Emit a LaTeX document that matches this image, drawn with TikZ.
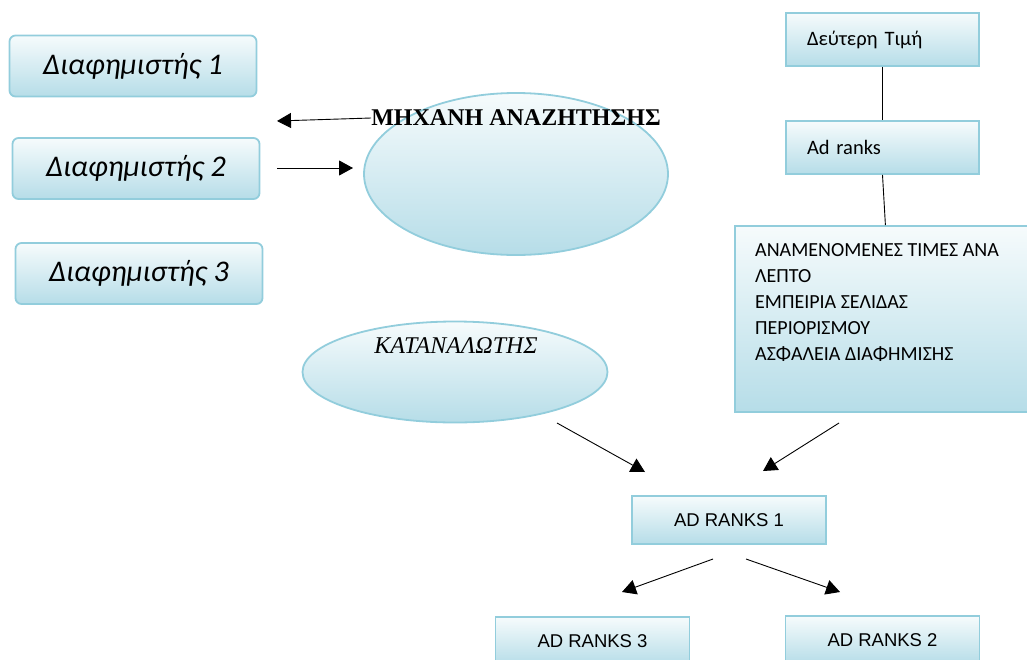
\documentclass[tikz,border=0pt]{standalone}
\usepackage{fontspec}
\setmainfont{Carlito}
\newfontfamily\serifgr{Liberation Serif}
\newfontfamily\arialgr{Liberation Sans}
\usetikzlibrary{shapes.geometric, arrows.meta, positioning}

\definecolor{boxblue}{HTML}{B6DDE8}
\definecolor{boxtop}{HTML}{F6FBFC}
\definecolor{boxedge}{HTML}{92CDDC}

\begin{document}
\begin{tikzpicture}[
  x=1pt, y=-1pt,
  advbox/.style={rectangle, rounded corners=6pt, draw=boxedge, line width=1.8pt,
                 top color=boxtop, bottom color=boxblue, minimum width=247pt,
                 minimum height=61pt, inner sep=0pt, font=\itshape\fontsize{30}{34}\selectfont},
  blob/.style={ellipse, draw=boxedge, line width=1.8pt, top color=boxtop,
               bottom color=boxblue, inner sep=0pt},
  infobox/.style={rectangle, draw=boxedge, line width=1.8pt, top color=boxtop,
                  bottom color=boxblue, inner sep=0pt},
  rankbox/.style={infobox, minimum width=194pt, minimum height=48pt,
                  font=\arialgr\fontsize{18.5}{21}\selectfont},
  pricebox/.style={infobox, text width=151pt, inner xsep=21pt, align=left,
                   minimum height=53pt, font=\fontsize{20.5}{24}\selectfont},
  arrow/.style={-{Triangle[length=14pt, width=15pt]}, line width=0.9pt},
  link/.style={line width=0.9pt}
]
\path[use as bounding box, clip] (0,0) rectangle (1027,659);

% advertisers
\node[advbox] (adv1) at (133,66) {Διαφημιστής 1};
\node[advbox] (adv2) at (136,168.5) {Διαφημιστής 2};
\node[advbox] (adv3) at (139,273.5) {Διαφημιστής 3};

% search engine
\node[blob, minimum width=304pt, minimum height=162pt] (engine) at (516,174) {};
\node[inner sep=0pt, font=\serifgr\bfseries\fontsize{24}{28}\selectfont] (enginetxt) at (516,118) {ΜΗΧΑΝΗ ΑΝΑΖΗΤΗΣΗΣ};

% consumer
\node[blob, minimum width=305pt, minimum height=101pt] (consumer) at (455,372) {};
\node[inner sep=0pt, font=\serifgr\itshape\fontsize{24}{28}\selectfont] (consumertxt) at (456,346) {ΚΑΤΑΝΑΛΩΤΗΣ};

% auction side
\node[pricebox] (second) at (882.5,39.5) {Δεύτερη Τιμή};
\node[pricebox] (adranks) at (882.5,147.5) {Ad ranks};
\node[infobox, minimum width=301pt, minimum height=186pt, anchor=north west] (factors) at (734,225) {};
\node[anchor=north west, inner sep=0pt, align=left,
      font=\fontsize{20}{26}\selectfont] (factorstxt) at (755,243)
  {ΑΝΑΜΕΝΟΜΕΝΕΣ ΤΙΜΕΣ ΑΝΑ\\ΛΕΠΤΟ\\ΕΜΠΕΙΡΙΑ ΣΕΛΙΔΑΣ\\ΠΕΡΙΟΡΙΣΜΟΥ\\ΑΣΦΑΛΕΙΑ ΔΙΑΦΗΜΙΣΗΣ};

% ranks
\node[rankbox] (rank1) at (729,520) {AD RANKS 1};
\node[rankbox] (rank3) at (592.5,641) {AD RANKS 3};
\node[rankbox] (rank2) at (882.5,640) {AD RANKS 2};

% free arrow ends
\coordinate (backtip) at (277,121);
\coordinate (fwdstart) at (277,168);
\coordinate (fwdtip) at (353,168);
\coordinate (constart) at (557,423);
\coordinate (contip) at (645,472);
\coordinate (facstart) at (839,423);
\coordinate (factip) at (763,471);
\coordinate (splitl) at (713,559);
\coordinate (tipl) at (622,592);
\coordinate (splitr) at (746,559);
\coordinate (tipr) at (840,592);

% connectors
\draw[link] (second.south) -- (adranks.north);
\draw[link] (adranks.south) -- (factors.north);
\draw[arrow] (enginetxt.west) -- (backtip);
\draw[arrow] (fwdstart) -- (fwdtip);
\draw[arrow] (constart) -- (contip);
\draw[arrow] (facstart) -- (factip);
\draw[arrow] (splitl) -- (tipl);
\draw[arrow] (splitr) -- (tipr);
\end{tikzpicture}
\end{document}
